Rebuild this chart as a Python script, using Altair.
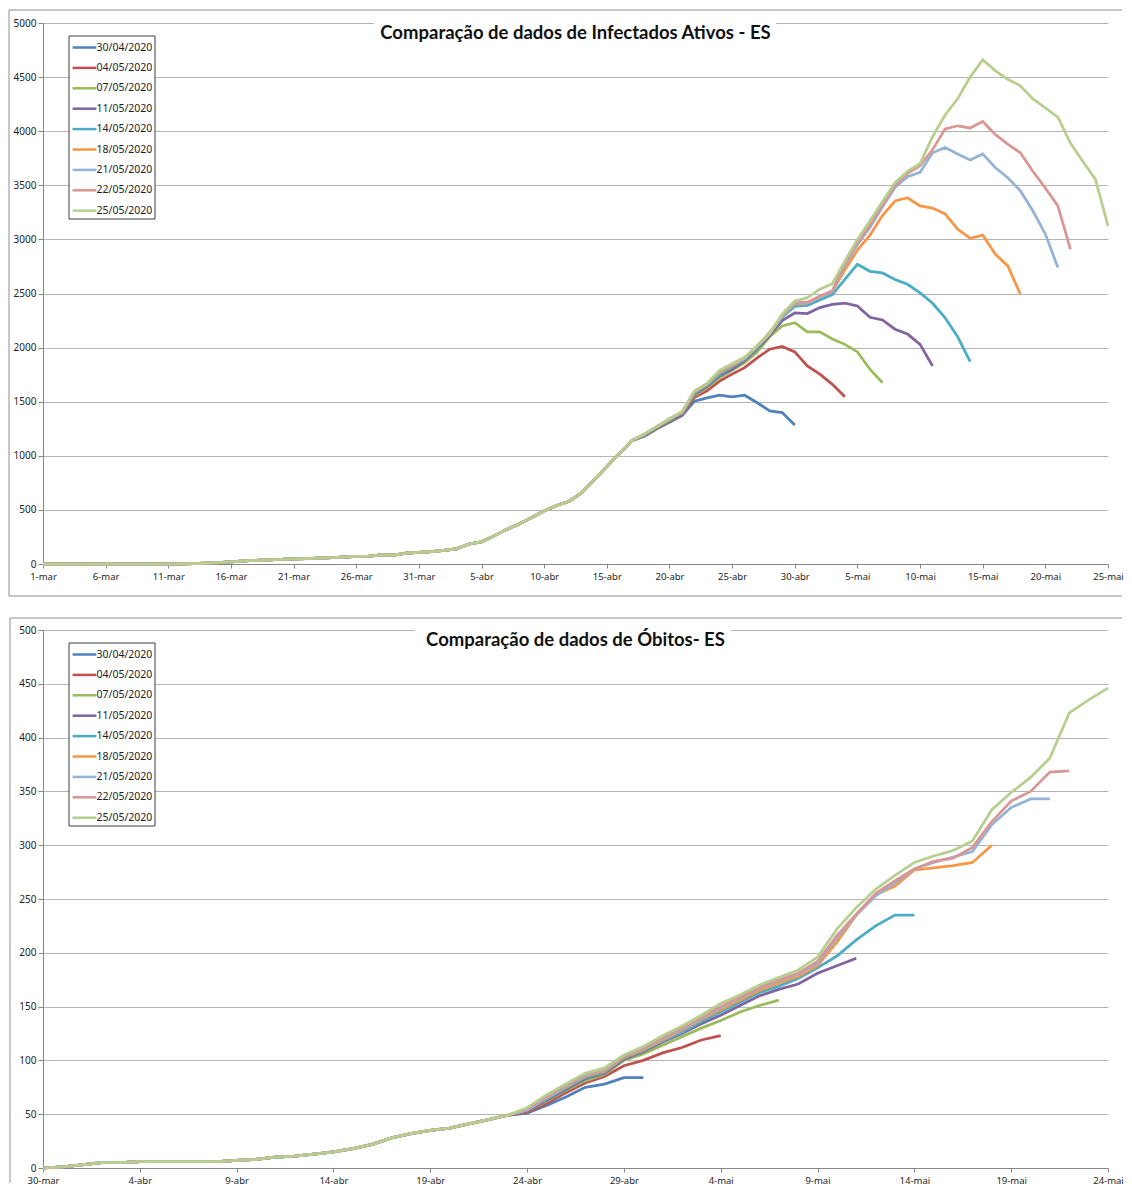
import altair as alt
import pandas as pd

# ---------------- shared categories ----------------
series_names = ["30/04/2020", "04/05/2020", "07/05/2020", "11/05/2020", "14/05/2020",
                "18/05/2020", "21/05/2020", "22/05/2020", "25/05/2020"]
series_colors = ["#4F81BD", "#C0504D", "#9BBB59", "#8064A2", "#4BACC6",
                 "#F79646", "#95B3D7", "#D99694", "#B7CF8E"]

# ---------------- Infectados Ativos (1-mar .. 25-mai) ----------------
ativos_title = "Comparação de dados de Infectados Ativos - ES"
ativos_ticks = ["1-mar", "6-mar", "11-mar", "16-mar", "21-mar", "26-mar", "31-mar", "5-abr",
                "10-abr", "15-abr", "20-abr", "25-abr", "30-abr", "5-mai", "10-mai", "15-mai",
                "20-mai", "25-mai"]
# days 0..47 (1-mar .. 17-abr), identical in every report
ativos_common = [0, 0, 0, 0, 0, 0, 0, 0, 0, 0, 0,
                 2, 4, 8, 12, 20, 28, 33, 38, 42, 47, 50, 55, 60, 64, 70, 73, 85, 82, 100,
                 108, 115, 125, 140, 185, 205, 260, 320, 370, 430, 490, 540, 580, 660, 780,
                 900, 1020, 1140]
# from day 48 (18-abr) on, per report
ativos_30_04 = [1180, 1250, 1310, 1370, 1505, 1535, 1560, 1545, 1560, 1490, 1415, 1400, 1285]
ativos_04_05 = [1185, 1255, 1320, 1380, 1540, 1600, 1690, 1755, 1815, 1905, 1985, 2010, 1960,
                1830, 1755, 1660, 1545]
ativos_07_05 = [1190, 1260, 1325, 1390, 1560, 1630, 1720, 1790, 1860, 1960, 2100, 2200, 2230,
                2145, 2145, 2080, 2030, 1960, 1800, 1675]
ativos_11_05 = [1190, 1260, 1330, 1390, 1570, 1640, 1740, 1800, 1880, 1990, 2110, 2250, 2320,
                2315, 2370, 2400, 2410, 2385, 2280, 2255, 2170, 2125, 2030, 1830]
ativos_14_05 = [1195, 1265, 1335, 1395, 1580, 1650, 1750, 1820, 1890, 2000, 2130, 2280, 2380,
                2390, 2440, 2490, 2630, 2770, 2705, 2690, 2630, 2585, 2505, 2410, 2275, 2100,
                1870]
ativos_18_05 = [1200, 1270, 1340, 1400, 1590, 1660, 1770, 1830, 1900, 2010, 2140, 2290, 2400,
                2410, 2470, 2520, 2720, 2900, 3040, 3220, 3355, 3385, 3310, 3290, 3235, 3095,
                3010, 3040, 2865, 2755, 2495]
ativos_21_05 = [1200, 1270, 1340, 1400, 1595, 1665, 1780, 1840, 1900, 2010, 2130, 2290, 2410,
                2415, 2470, 2520, 2760, 2950, 3110, 3300, 3480, 3580, 3620, 3800, 3850, 3790,
                3735, 3790, 3665, 3570, 3450, 3265, 3050, 2740]
ativos_22_05 = [1200, 1270, 1340, 1400, 1595, 1665, 1785, 1845, 1905, 2015, 2130, 2300, 2420,
                2420, 2475, 2525, 2780, 2970, 3130, 3320, 3500, 3610, 3680, 3830, 4020, 4050,
                4030, 4090, 3970, 3880, 3800, 3630, 3475, 3310, 2910]
ativos_25_05 = [1200, 1270, 1340, 1410, 1600, 1670, 1790, 1850, 1910, 2020, 2130, 2310, 2430,
                2460, 2540, 2590, 2800, 3000, 3170, 3350, 3525, 3630, 3700, 3950, 4150, 4300,
                4500, 4660, 4560, 4480, 4420, 4300, 4215, 4130, 3890, 3720, 3555, 3125]
ativos_tails = [ativos_30_04, ativos_04_05, ativos_07_05, ativos_11_05, ativos_14_05,
                ativos_18_05, ativos_21_05, ativos_22_05, ativos_25_05]

# ---------------- Óbitos (30-mar .. 24-mai) ----------------
obitos_title = "Comparação de dados de Óbitos- ES"
obitos_ticks = ["30-mar", "4-abr", "9-abr", "14-abr", "19-abr", "24-abr", "29-abr", "4-mai",
                "9-mai", "14-mai", "19-mai", "24-mai"]
# days 0..24 (30-mar .. 23-abr), identical in every report
obitos_common = [0, 1, 3, 5, 5, 6, 6, 6, 6, 6, 7, 8, 10, 11, 13, 15, 18, 22, 28, 32, 35, 37,
                 41, 45, 49]
# from day 25 (24-abr) on, per report
obitos_30_04 = [51, 58, 66, 75, 78, 84, 84]
obitos_04_05 = [52, 60, 70, 79, 85, 95, 100, 107, 112, 119, 123]
obitos_07_05 = [53, 62, 72, 81, 87, 100, 106, 114, 122, 130, 137, 145, 151, 156]
obitos_11_05 = [53, 63, 73, 83, 88, 101, 108, 117, 125, 134, 142, 151, 160, 166, 171, 181,
                188, 195]
obitos_14_05 = [54, 64, 74, 84, 89, 102, 109, 118, 126, 136, 145, 154, 163, 169, 176, 186,
                197, 212, 225, 235, 235]
obitos_18_05 = [54, 65, 75, 85, 90, 103, 110, 119, 128, 138, 147, 156, 165, 172, 178, 188,
                210, 235, 254, 262, 277, 279, 281, 284, 300]
obitos_21_05 = [54, 65, 76, 86, 91, 104, 111, 120, 129, 139, 149, 158, 167, 174, 180, 190,
                214, 235, 253, 265, 278, 284, 289, 294, 319, 335, 343, 343]
obitos_22_05 = [55, 66, 77, 87, 92, 104, 112, 121, 130, 140, 150, 159, 168, 175, 181, 192,
                216, 236, 255, 267, 278, 285, 288, 298, 322, 341, 350, 368, 369]
obitos_25_05 = [56, 68, 78, 88, 93, 105, 113, 123, 132, 142, 153, 161, 170, 177, 184, 196,
                222, 242, 259, 272, 284, 290, 295, 304, 333, 349, 363, 381, 423, 435, 446]
obitos_tails = [obitos_30_04, obitos_04_05, obitos_07_05, obitos_11_05, obitos_14_05,
                obitos_18_05, obitos_21_05, obitos_22_05, obitos_25_05]

FONT = "Noto Sans"
W = 1065
FRAME = "#8f8f8f"


def build_df(common, tails):
    rows = []
    for name, tail in zip(series_names, tails):
        for d, v in enumerate(common + tail):
            rows.append({"day": d, "valor": v, "serie": name})
    return pd.DataFrame(rows)


def rule(x, x2, y, y2):
    return alt.Chart(alt.Data(values=[{}])).mark_rule(color=FRAME, strokeWidth=1).encode(
        x=alt.value(x), x2=alt.value(x2), y=alt.value(y), y2=alt.value(y2))


def panel(df, ticks, step, ymax, ystep, title, height, frame_rules, box):
    ndays = (len(ticks) - 1) * step
    label_expr = "[" + ",".join("'%s'" % t for t in ticks) + "][round(datum.value / %d)]" % step
    base = alt.Chart(df).encode(
        x=alt.X("day:Q", scale=alt.Scale(domain=[0, ndays], nice=False, zero=False),
                axis=alt.Axis(values=list(range(0, ndays + 1, step)), labelExpr=label_expr,
                              title=None, grid=False, labelPadding=3, tickSize=4,
                              labelFontSize=9.5, labelFlush=False)),
        y=alt.Y("valor:Q", scale=alt.Scale(domain=[0, ymax], nice=False),
                axis=alt.Axis(values=list(range(0, ymax + 1, ystep)), title=None, grid=True,
                              format="d", labelPadding=2, tickSize=5)),
        color=alt.Color("serie:N", scale=alt.Scale(domain=series_names, range=series_colors),
                        legend=alt.Legend(title=None, orient="none", legendX=25.5,
                                          legendY=12.5, direction="vertical",
                                          strokeColor="#3c3c3c", fillColor="white",
                                          padding=2, symbolType="M-1.4,0L1.4,0",
                                          symbolSize=289, symbolStrokeWidth=2.5,
                                          symbolOffset=4, labelOffset=2, rowPadding=4.4,
                                          labelFont=FONT, labelFontSize=10.5,
                                          labelColor="#1e1e1e")),
    )
    lines = [base.transform_filter(alt.datum.serie == s).mark_line(strokeWidth=2.75)
             for s in series_names]
    frame = [rule(*r) for r in frame_rules]
    one = alt.Data(values=[{"t": title}])
    title_box = alt.Chart(one).mark_rect(fill="white").encode(
        x=alt.value(box[0]), x2=alt.value(box[1]), y=alt.value(-4), y2=alt.value(18))
    title_text = alt.Chart(one).mark_text(font="Lato", fontSize=18.5, fontWeight="bold",
                                          color="#111111", align="center",
                                          baseline="middle").encode(
        text="t:N", x=alt.value(W / 2), y=alt.value(10))
    return alt.layer(*frame, *lines, title_box, title_text).properties(width=W, height=height)


top = panel(build_df(ativos_common, ativos_tails), ativos_ticks, 5, 5000, 500,
            ativos_title, 541,
            [(-34, 1079, -13, -13), (-34, -34, -13, 573), (-34, 1079, 573, 573)],
            (331, 733))
bottom = panel(build_df(obitos_common, obitos_tails), obitos_ticks, 5, 500, 50,
               obitos_title, 538,
               [(-33, 1079, -12, -12), (-33, -33, -12, 553)],
               (372, 688))

chart = alt.vconcat(top, bottom, spacing=20).resolve_scale(color="independent").resolve_legend(
    color="independent").properties(
    padding={"left": 0, "top": 1, "right": 0, "bottom": 0}
).configure_view(stroke="transparent").configure_axis(
    labelFont=FONT, labelFontSize=10, labelColor="#1e1e1e", domainColor="#868686",
    tickColor="#868686", gridColor="#b4b4b4", domainWidth=1, tickWidth=1
)

chart.save("out.html", embed_options={"renderer": "svg", "actions": False})
